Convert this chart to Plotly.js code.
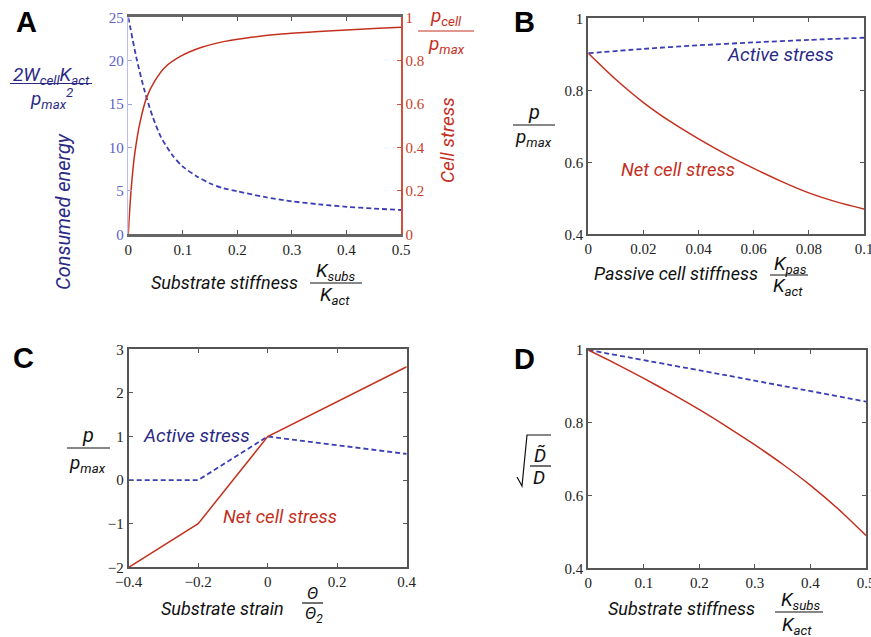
<!DOCTYPE html>
<html>
<head>
<meta charset="utf-8">
<script src="https://cdn.plot.ly/plotly-3.0.1.min.js"></script>
<style>html,body{margin:0;padding:0;background:#fff;}#chart{width:871px;height:637px;}</style>
</head>
<body>
<div id="chart"></div>
<script>
// ---------- DATA ----------
// Panel A
const aEnergyX = [0, 0.015, 0.03, 0.045, 0.06, 0.08, 0.1, 0.125, 0.15, 0.175, 0.2, 0.25, 0.3, 0.35, 0.4, 0.45, 0.5];
const aEnergy  = [25, 20.3, 16.5, 13.5, 11.2, 9.2, 7.8, 6.7, 5.85, 5.3, 4.95, 4.3, 3.8, 3.45, 3.17, 2.97, 2.8];
const aStressX = [0, 0.002, 0.006, 0.012, 0.0215, 0.0337, 0.049, 0.0673, 0.0979, 0.1346, 0.177, 0.226, 0.281, 0.35, 0.4, 0.45, 0.5];
const aStress  = [0, 0.09, 0.23, 0.375, 0.516, 0.631, 0.708, 0.770, 0.823, 0.862, 0.889, 0.908, 0.923, 0.934, 0.942, 0.948, 0.954];
// Panel B
const bX      = [0, 0.01, 0.02, 0.03, 0.04, 0.05, 0.06, 0.07, 0.08, 0.09, 0.1];
const bNet    = [0.903, 0.83, 0.766, 0.712, 0.665, 0.622, 0.583, 0.547, 0.515, 0.49, 0.47];
const bActX   = [0, 0.02, 0.04, 0.06, 0.08, 0.1];
const bActive = [0.903, 0.915, 0.925, 0.933, 0.940, 0.946];
// Panel C
const cX      = [-0.4, -0.2, 0, 0.4];
const cActive = [0, 0, 1, 0.6];
const cNet    = [-2, -1, 1, 2.6];
// Panel D
const dX      = [0, 0.05, 0.1, 0.15, 0.2, 0.25, 0.3, 0.35, 0.4, 0.45, 0.5];
const dNet    = [1, 0.962, 0.922, 0.88, 0.836, 0.789, 0.739, 0.686, 0.628, 0.563, 0.49];
const dActX   = [0, 0.25, 0.5];
const dActive = [1, 0.930, 0.858];
// Tick values / labels
const aXTickVals = [0, 0.1, 0.2, 0.3, 0.4, 0.5];
const aXTickText = ['0', '0.1', '0.2', '0.3', '0.4', '0.5'];
const aYTickVals = [0, 5, 10, 15, 20, 25];
const aYTickText = ['0', '5', '10', '15', '20', '25'];
const aY2TickVals = [0, 0.2, 0.4, 0.6, 0.8, 1];
const aY2TickText = ['0', '0.2', '0.4', '0.6', '0.8', '1'];
const bXTickVals = [0, 0.02, 0.04, 0.06, 0.08, 0.1];
const bXTickText = ['0', '0.02', '0.04', '0.06', '0.08', '0.1'];
const pTickVals = [0.4, 0.6, 0.8, 1];
const pTickText = ['0.4', '0.6', '0.8', '1'];
const cXTickVals = [-0.4, -0.2, 0, 0.2, 0.4];
const cXTickText = ['\u22120.4', '\u22120.2', '0', '0.2', '0.4'];
const cYTickVals = [-2, -1, 0, 1, 2, 3];
const cYTickText = ['\u22122', '\u22121', '0', '1', '2', '3'];
const aRangeX = [0, 0.5], aRangeY = [0, 25], aRangeY2 = [0, 1];
const bRangeX = [0, 0.1], pRange = [0.4, 1];
const cRangeX = [-0.4, 0.4], cRangeY = [-2, 3];

// ---------- STYLE ----------
const W = 871, H = 637;
const px = x => x / W;
const py = y => 1 - y / H;
const RED = '#c4301e';
const BLUE = '#3a3fb5';
const NAVY = '#2b2b86';
const LBLUE = '#5a60c4';
const TICKFONT = {family: 'Liberation Serif', size: 15, color: '#222'};
const LABELFAM = 'Roboto, Liberation Sans, sans-serif';

const solid = (c, sp) => ({color: c, width: 1.5, shape: sp ? 'spline' : 'linear', smoothing: 0.8});
const dashed = (c, sp) => ({color: c, width: 1.8, dash: '5px,3px', shape: sp ? 'spline' : 'linear', smoothing: 0.8});

const traces = [
  {x: aEnergyX, y: aEnergy, xaxis: 'x', yaxis: 'y', mode: 'lines', line: dashed(BLUE, true)},
  {x: aStressX, y: aStress, xaxis: 'x', yaxis: 'y2', mode: 'lines', line: solid(RED, true)},
  {x: bActX, y: bActive, xaxis: 'x2', yaxis: 'y3', mode: 'lines', line: dashed(BLUE, true)},
  {x: bX, y: bNet, xaxis: 'x2', yaxis: 'y3', mode: 'lines', line: solid(RED, true)},
  {x: cX, y: cActive, xaxis: 'x3', yaxis: 'y4', mode: 'lines', line: dashed(BLUE, false)},
  {x: cX, y: cNet, xaxis: 'x3', yaxis: 'y4', mode: 'lines', line: solid(RED, false)},
  {x: dActX, y: dActive, xaxis: 'x4', yaxis: 'y5', mode: 'lines', line: dashed(BLUE, true)},
  {x: dX, y: dNet, xaxis: 'x4', yaxis: 'y5', mode: 'lines', line: solid(RED, true)}
];

function boxAxis(range, vals, text, dom, anchor, extra) {
  return Object.assign({
    range: range, tickmode: 'array', tickvals: vals, ticktext: text, domain: dom, anchor: anchor,
    showgrid: false, zeroline: false, showline: true, linecolor: '#555', linewidth: 2,
    mirror: 'ticks', ticks: 'inside', ticklen: 4, tickcolor: '#555', tickwidth: 1,
    tickfont: TICKFONT, ticklabeloverflow: 'allow', fixedrange: true
  }, extra || {});
}

const layout = {
  width: W, height: H, margin: {l: 0, r: 0, t: 0, b: 0},
  paper_bgcolor: '#fff', plot_bgcolor: '#fff', showlegend: false,
  xaxis: boxAxis(aRangeX, aXTickVals, aXTickText, [px(128.3), px(401)], 'y', {linecolor: '#666', linewidth: 3}),
  yaxis: boxAxis(aRangeY, aYTickVals, aYTickText, [py(234.3), py(17.3)], 'x', {mirror: false, linecolor: '#b9bff0', linewidth: 1.5, tickcolor: '#9aa0e0', tickfont: Object.assign({}, TICKFONT, {color: LBLUE})}),
  yaxis2: boxAxis(aRangeY2, aY2TickVals, aY2TickText, [py(234.3), py(17.3)], 'x', {overlaying: 'y', side: 'right', mirror: false, linecolor: '#d0503c', linewidth: 1.5, tickcolor: '#d0503c', tickfont: Object.assign({}, TICKFONT, {color: '#c8402a'})}),
  xaxis2: boxAxis(bRangeX, bXTickVals, bXTickText, [px(588.3), px(864)], 'y3'),
  yaxis3: boxAxis(pRange, pTickVals, pTickText, [py(234.3), py(18.3)], 'x2'),
  xaxis3: boxAxis(cRangeX, cXTickVals, cXTickText, [px(128.7), px(406.7)], 'y4'),
  yaxis4: boxAxis(cRangeY, cYTickVals, cYTickText, [py(567.3), py(349.3)], 'x3'),
  xaxis4: boxAxis(aRangeX, aXTickVals, aXTickText, [px(588.3), px(866)], 'y5'),
  yaxis5: boxAxis(pRange, pTickVals, pTickText, [py(568.3), py(350)], 'x4'),
  annotations: [], shapes: []
};

function label(text, x, y, size, color, opts) {
  layout.annotations.push(Object.assign({
    text: text, x: px(x), y: py(y), xref: 'paper', yref: 'paper',
    xanchor: 'center', yanchor: 'middle', showarrow: false,
    font: {family: LABELFAM, size: size, color: color, style: 'italic'}
  }, opts || {}));
}
function bar(x0, x1, y, color) {
  layout.shapes.push({type: 'line', xref: 'paper', yref: 'paper', x0: px(x0), x1: px(x1), y0: py(y), y1: py(y), line: {color: color, width: 1.2}});
}
function panelLetter(t, x, y) {
  layout.annotations.push({text: '<b>' + t + '</b>', x: px(x), y: py(y), xref: 'paper', yref: 'paper',
    xanchor: 'center', yanchor: 'middle', showarrow: false,
    font: {family: 'Liberation Sans, Arial, sans-serif', size: 29, color: '#000'}});
}

// Panel A labels
panelLetter('A', 26, 22);
label('2W<sub>cell</sub>K<sub>act</sub>', 51, 75, 19, NAVY);
bar(10, 92, 83.5, NAVY);
label('p<sub>max</sub><sup>2</sup>', 51, 98, 19, NAVY);
label('Consumed energy', 63, 212, 20, NAVY, {textangle: -90});
label('p<sub>cell</sub>', 446, 17, 19, RED);
bar(418, 474, 31, RED);
label('p<sub>max</sub>', 446, 44, 19, RED);
label('Cell stress', 447, 140, 19, RED, {textangle: -90});
label('Substrate stiffness', 225, 282, 18, '#111');
label('K<sub>subs</sub>', 336, 271, 19, '#111');
bar(310, 362, 283, '#111');
label('K<sub>act</sub>', 335, 295, 19, '#111');

// Panel B labels
panelLetter('B', 524, 22);
label('p', 534, 112, 20, '#111');
bar(513, 555, 125, '#111');
label('p<sub>max</sub>', 533, 138, 19, '#111');
label('Passive cell stiffness', 676, 273, 18, '#111');
label('K<sub>pas</sub>', 790, 264, 19, '#111');
bar(770, 808, 275, '#111');
label('K<sub>act</sub>', 788, 286, 19, '#111');
label('Active stress', 780, 54, 19, NAVY);
label('Net cell stress', 678, 170, 18.5, RED);

// Panel C labels
panelLetter('C', 23, 358);
label('p', 88, 435, 20, '#111');
bar(67, 110, 448, '#111');
label('p<sub>max</sub>', 87, 463, 19, '#111');
label('Active stress', 196, 435, 19, NAVY);
label('Net cell stress', 280, 517, 18.5, RED);
label('Substrate strain', 222, 608, 18, '#111');
label('\u0398', 312, 593, 17, '#111');
bar(302, 323, 603, '#111');
label('\u0398<sub>2</sub>', 314, 614, 17, '#111');

// Panel D labels
panelLetter('D', 524, 359);
label('D\u0303', 540, 455, 19, '#111');
bar(530, 551, 466, '#111');
label('D', 539, 477, 19, '#111');
layout.shapes.push({type: 'path', xref: 'paper', yref: 'paper',
  path: 'M ' + px(517) + ' ' + py(477) + ' L ' + px(522) + ' ' + py(486) + ' L ' + px(527) + ' ' + py(435) + ' L ' + px(551) + ' ' + py(435),
  line: {color: '#111', width: 1.2}});
label('Substrate stiffness', 681, 608, 18, '#111');
label('K<sub>subs</sub>', 801, 600, 19, '#111');
bar(775, 823, 612, '#111');
label('K<sub>act</sub>', 797, 625, 19, '#111');

Plotly.newPlot('chart', traces, layout, {staticPlot: true, displayModeBar: false});
</script>
</body>
</html>
